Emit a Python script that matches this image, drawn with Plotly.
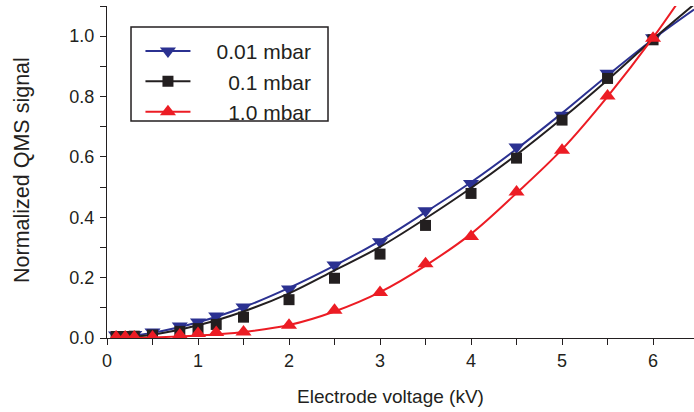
import plotly.graph_objects as go

# Measured points (electrode voltage in kV, normalized QMS signal)
voltage = [0.1, 0.2, 0.3, 0.5, 0.8, 1.0, 1.2, 1.5, 2.0, 2.5, 3.0, 3.5, 4.0, 4.5, 5.0, 5.5, 6.0]
sig_001 = [0.010, 0.010, 0.012, 0.020, 0.040, 0.053, 0.073, 0.103, 0.162, 0.242, 0.319, 0.422, 0.512, 0.633, 0.738, 0.877, 0.995]
sig_01 = [0.005, 0.005, 0.006, 0.010, 0.022, 0.031, 0.045, 0.069, 0.127, 0.198, 0.278, 0.373, 0.479, 0.596, 0.722, 0.860, 0.988]
sig_10 = [0.003, 0.003, 0.003, 0.003, 0.010, 0.015, 0.018, 0.020, 0.042, 0.092, 0.151, 0.246, 0.336, 0.484, 0.622, 0.802, 0.993]

# Fitted curves
fit_v = [0.1, 0.5, 1.0, 1.5, 2.0, 2.5, 3.0, 3.5, 4.0, 4.5, 5.0, 5.5, 6.0, 6.45]
fit_001 = [0.003, 0.017, 0.052, 0.102, 0.166, 0.240, 0.322, 0.417, 0.516, 0.626, 0.745, 0.870, 0.990, 1.088]
fit_01 = [0.001, 0.011, 0.042, 0.088, 0.148, 0.224, 0.302, 0.396, 0.497, 0.607, 0.727, 0.855, 0.990, 1.105]
fit_10 = [0.000, 0.002, 0.008, 0.020, 0.043, 0.088, 0.152, 0.240, 0.345, 0.480, 0.625, 0.800, 0.995, 1.190]

# legend labels, padded so the pressures line up on the right
labels = ["\u2002\u20020.01 mbar", "\u2002\u2002\u20070.1 mbar", "\u2002\u2002\u20071.0 mbar"]
colors = ["#2B3191", "#231F20", "#EC1C24"]
symbols = ["triangle-down", "square", "triangle-up"]
msizes = [14, 11, 14]

X_RANGE = [0, 6.45]
Y_RANGE = [0, 1.1]
FONT = "Liberation Sans, Arial, sans-serif"
AX = "#231F20"

fig = go.Figure()
series = [(sig_001, fit_001), (sig_01, fit_01), (sig_10, fit_10)]
for i, (pts, fit) in enumerate(series):
    # fitted curve
    fig.add_trace(go.Scatter(
        x=fit_v, y=fit, mode="lines", line=dict(color=colors[i], width=2, shape="spline"),
        legendgroup=f"g{i}", showlegend=False, hoverinfo="skip"))
    # measured points
    fig.add_trace(go.Scatter(
        x=voltage, y=pts, mode="markers",
        marker=dict(symbol=symbols[i], size=msizes[i], color=colors[i], line=dict(width=0)),
        legendgroup=f"g{i}", showlegend=False))
    # legend entry: line + symbol
    fig.add_trace(go.Scatter(
        x=[None], y=[None], mode="lines+markers", name=labels[i],
        line=dict(color=colors[i], width=2),
        marker=dict(symbol=symbols[i], size=msizes[i], color=colors[i], line=dict(width=0)),
        legendgroup=f"g{i}", hoverinfo="skip"))

axis_common = dict(showline=True, linecolor=AX, linewidth=1.3, ticks="outside", ticklen=6,
                   tickwidth=1.2, tickcolor=AX, showgrid=False, zeroline=False,
                   tickfont=dict(family=FONT, size=18, color=AX))

fig.update_layout(
    width=694, height=412,
    margin=dict(l=107, r=0, t=6, b=74),
    paper_bgcolor="white", plot_bgcolor="white",
    font=dict(family=FONT, color=AX),
    xaxis=dict(range=X_RANGE, dtick=1, tick0=0,
               minor=dict(dtick=0.5, ticks="outside", ticklen=6, tickcolor=AX, tickwidth=1.2),
               **axis_common),
    yaxis=dict(range=Y_RANGE, dtick=0.2, tick0=0, tickformat=".1f", ticklabelstandoff=2,
               minor=dict(dtick=0.1, ticks="outside", ticklen=6, tickcolor=AX, tickwidth=1.2),
               **axis_common),
    xaxis2=dict(overlaying="x", side="top", anchor="y", range=X_RANGE, dtick=1, tick0=0,
                showline=True, linecolor=AX, linewidth=1.3, ticks="inside", ticklen=6, tickwidth=1.2,
                tickcolor=AX, showticklabels=False, showgrid=False, zeroline=False,
                minor=dict(dtick=0.5, ticks="inside", ticklen=6, tickcolor=AX, tickwidth=1.2)),
    yaxis2=dict(overlaying="y", side="right", anchor="x", range=Y_RANGE, dtick=0.2, tick0=0,
                showline=False, ticks="inside", ticklen=6, tickwidth=1.2,
                tickcolor=AX, showticklabels=False, showgrid=False, zeroline=False,
                minor=dict(dtick=0.1, ticks="inside", ticklen=6, tickcolor=AX, tickwidth=1.2)),
    legend=dict(x=0.057, y=0.925, xanchor="left", yanchor="top", bgcolor="rgba(0,0,0,0)",
                borderwidth=0, font=dict(family=FONT, size=21, color=AX), itemwidth=45,
                tracegroupgap=0),
    shapes=[dict(type="rect", xref="paper", yref="paper", x0=0.0409, x1=0.3765, y0=0.6536, y1=0.9367,
                 line=dict(color=AX, width=1.5), fillcolor="rgba(0,0,0,0)", layer="above")],
    annotations=[
        dict(text="Electrode voltage (kV)", xref="paper", yref="paper", x=(390 - 107) / 587,
             y=-(396 - 338) / 332, xanchor="center", yanchor="middle", showarrow=False,
             font=dict(family=FONT, size=19, color=AX)),
        dict(text="Normalized QMS signal", xref="paper", yref="paper", x=-(107 - 22) / 587,
             y=(338 - 170) / 332, xanchor="center", yanchor="middle", textangle=-90, showarrow=False,
             font=dict(family=FONT, size=21.5, color=AX)),
    ],
    showlegend=True,
)

fig.write_html("out.html")
